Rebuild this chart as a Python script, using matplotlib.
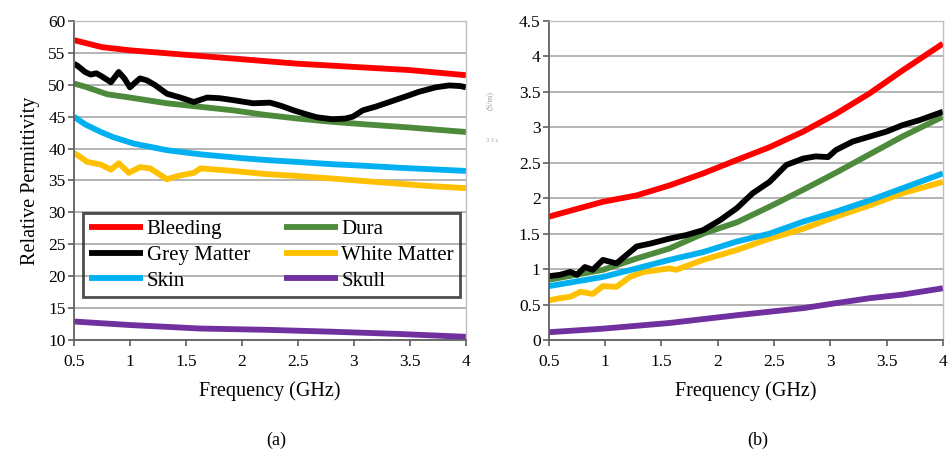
import matplotlib
matplotlib.use('Agg')
import matplotlib.pyplot as plt
import numpy as np

plt.rcParams['font.family'] = ['Liberation Serif', 'DejaVu Serif']

names = ['Bleeding', 'Dura', 'Grey Matter', 'White Matter', 'Skin', 'Skull']
colors = ['#ff0000', '#4e8a3c', '#000000', '#ffc000', '#00b0f0', '#7030a0']

# ---- (a) relative permittivity ----
f_bleed_a = [0.5, 0.75, 1.0, 1.5, 2.0, 2.5, 3.0, 3.5, 4.0]
e_bleed = [57.0, 55.9, 55.4, 54.7, 54.0, 53.3, 52.8, 52.3, 51.5]

f_dura_a = [0.5, 0.6, 0.8, 1.0, 1.33, 1.6, 1.92, 2.2, 2.5, 2.8, 3.1, 3.5, 4.0]
e_dura = [50.2, 49.7, 48.5, 48.0, 47.1, 46.6, 46.0, 45.3, 44.7, 44.2, 43.8, 43.3, 42.6]

f_grey_a = [0.5, 0.53, 0.6, 0.65, 0.7, 0.75, 0.83, 0.9, 0.95, 1.0, 1.05, 1.09, 1.15,
            1.22, 1.33, 1.45, 1.57, 1.69, 1.8, 1.92, 2.1, 2.25, 2.35, 2.46, 2.57,
            2.67, 2.81, 2.92, 2.99, 3.08, 3.2, 3.3, 3.4, 3.5, 3.58, 3.73, 3.85, 3.95, 4.0]
e_grey = [53.3, 53.0, 52.0, 51.6, 51.8, 51.3, 50.4, 52.0, 51.0, 49.6, 50.4, 51.0, 50.7,
          50.0, 48.6, 48.0, 47.3, 48.0, 47.9, 47.6, 47.1, 47.2, 46.7, 46.0, 45.4,
          44.9, 44.6, 44.7, 45.0, 46.0, 46.6, 47.2, 47.8, 48.4, 48.9, 49.6, 49.9, 49.8, 49.6]

f_white_a = [0.5, 0.53, 0.62, 0.74, 0.83, 0.9, 0.99, 1.09, 1.18, 1.33, 1.45, 1.57,
             1.63, 1.92, 2.22, 2.5, 2.81, 3.1, 3.4, 3.7, 4.0]
e_white = [39.3, 39.0, 37.9, 37.5, 36.7, 37.7, 36.2, 37.1, 36.9, 35.2, 35.8, 36.2,
           36.9, 36.5, 36.0, 35.7, 35.3, 34.9, 34.5, 34.1, 33.8]

f_skin_a = [0.5, 0.6, 0.74, 0.85, 1.03, 1.33, 1.63, 2.0, 2.22, 2.5, 2.81, 3.1, 3.4, 3.7, 4.0]
e_skin = [45.0, 43.8, 42.6, 41.8, 40.8, 39.75, 39.1, 38.5, 38.2, 37.9, 37.55, 37.3, 37.0, 36.75, 36.5]

f_skull_a = [0.5, 1.0, 1.63, 2.22, 2.81, 3.4, 4.0]
e_skull = [12.9, 12.35, 11.8, 11.6, 11.3, 10.95, 10.5]

# ---- (b) conductivity ----
f_bleed_b = [0.5, 0.98, 1.28, 1.57, 1.87, 2.17, 2.46, 2.76, 3.05, 3.35, 3.64, 4.0]
s_bleed = [1.74, 1.95, 2.04, 2.18, 2.35, 2.54, 2.72, 2.94, 3.19, 3.48, 3.80, 4.18]

f_dura_b = [0.5, 0.98, 1.28, 1.57, 1.87, 2.17, 2.46, 2.76, 3.05, 3.35, 3.64, 4.0]
s_dura = [0.85, 0.99, 1.15, 1.29, 1.50, 1.66, 1.88, 2.12, 2.36, 2.62, 2.87, 3.15]

f_grey_b = [0.5, 0.6, 0.69, 0.75, 0.82, 0.89, 0.98, 1.1, 1.28, 1.4, 1.57, 1.72, 1.87,
            2.02, 2.17, 2.31, 2.46, 2.61, 2.76, 2.87, 2.98, 3.05, 3.2, 3.35, 3.5,
            3.64, 3.79, 4.0]
s_grey = [0.90, 0.92, 0.96, 0.92, 1.03, 0.99, 1.13, 1.08, 1.32, 1.36, 1.43, 1.48, 1.55,
          1.69, 1.86, 2.07, 2.23, 2.47, 2.56, 2.59, 2.58, 2.68, 2.80, 2.87, 2.94,
          3.03, 3.10, 3.22]

f_white_b = [0.5, 0.6, 0.69, 0.78, 0.89, 0.98, 1.1, 1.22, 1.34, 1.57, 1.63, 1.87,
             2.17, 2.46, 2.76, 3.05, 3.35, 3.64, 4.0]
s_white = [0.56, 0.59, 0.61, 0.68, 0.65, 0.76, 0.75, 0.89, 0.96, 1.01, 0.99, 1.13,
           1.27, 1.43, 1.57, 1.74, 1.90, 2.07, 2.23]

f_skin_b = [0.5, 0.98, 1.28, 1.57, 1.87, 2.17, 2.46, 2.76, 3.05, 3.35, 3.64, 4.0]
s_skin = [0.76, 0.89, 1.01, 1.13, 1.24, 1.39, 1.50, 1.67, 1.81, 1.97, 2.14, 2.35]

f_skull_b = [0.5, 0.98, 1.57, 2.17, 2.76, 3.05, 3.35, 3.64, 4.0]
s_skull = [0.11, 0.16, 0.24, 0.35, 0.45, 0.52, 0.59, 0.64, 0.73]

series_a = [(f_bleed_a, e_bleed), (f_dura_a, e_dura), (f_grey_a, e_grey),
            (f_white_a, e_white), (f_skin_a, e_skin), (f_skull_a, e_skull)]
series_b = [(f_bleed_b, s_bleed), (f_dura_b, s_dura), (f_grey_b, s_grey),
            (f_white_b, s_white), (f_skin_b, s_skin), (f_skull_b, s_skull)]

xticks = [0.5, 1, 1.5, 2, 2.5, 3, 3.5, 4]

fig = plt.figure(figsize=(9.48, 4.5), dpi=100)
ax1 = fig.add_axes([0.078, 0.2444, 0.4135, 0.709])
ax2 = fig.add_axes([0.579, 0.2444, 0.4156, 0.709])


def style(ax, ymin, ymax, ystep):
    ax.set_xlim(0.5, 4)
    ax.set_ylim(ymin, ymax)
    ax.set_xticks(xticks)
    ax.set_xticklabels(['%g' % t for t in xticks])
    ax.set_yticks(np.arange(ymin, ymax + ystep / 2, ystep))
    ax.set_yticklabels(['%g' % t for t in np.arange(ymin, ymax + ystep / 2, ystep)])
    ax.yaxis.grid(True, color='#b4b4b4', lw=1.4)
    ax.set_axisbelow(True)
    for s in ['left', 'bottom']:
        ax.spines[s].set_color('#606060')
        ax.spines[s].set_linewidth(1.3)
    for s in ['top', 'right']:
        ax.spines[s].set_color('#c0c0c0')
        ax.spines[s].set_linewidth(1.0)
    ax.tick_params(axis='both', labelsize=12.5, color='#606060', length=4, width=1.2, pad=2)
    ax.tick_params(axis='x', pad=6)
    ax.set_xlabel('Frequency (GHz)', fontsize=14.5, labelpad=8)


lines = []
for (f, v), c, n in zip(series_a, colors, names):
    ln, = ax1.plot(f, v, color=c, lw=4.2, label=n, solid_capstyle='butt')
    lines.append(ln)
for (f, v), c in zip(series_b, colors):
    ax2.plot(f, v, color=c, lw=4.2, solid_capstyle='butt')

style(ax1, 10, 60, 5)
style(ax2, 0, 4.5, 0.5)
ax1.set_ylabel('Relative Permittivity', fontsize=14.5, labelpad=6)

# legend fills column by column, so reorder to get rows: Bleeding/Dura, Grey/White, Skin/Skull
order = [0, 2, 4, 1, 3, 5]
leg = ax1.legend([lines[i] for i in order], [names[i] for i in order],
                 loc='lower left', bbox_to_anchor=(0.023, 0.135, 0.962, 0.263),
                 mode='expand', ncol=2, fontsize=15, handlelength=2.6,
                 handletextpad=0.15, labelspacing=0.3, borderpad=0.3,
                 borderaxespad=0, columnspacing=1.0, fancybox=False,
                 facecolor='none')
leg.get_frame().set_edgecolor('#202020')
leg.get_frame().set_linewidth(2.0)

fig.text(490 / 948, 1 - 100 / 450, '(S/m)', rotation=90, fontsize=6,
         color='#a0a0a0', ha='center', va='center')
fig.text(492 / 948, 1 - 140 / 450, '3 3 z', fontsize=4.5,
         color='#a0a0a0', ha='center', va='center')

fig.text(276 / 948, 1 - 440 / 450, '(a)', fontsize=13, ha='center', va='center')
fig.text(758 / 948, 1 - 440 / 450, '(b)', fontsize=13, ha='center', va='center')

fig.savefig('out.png', dpi=100)
